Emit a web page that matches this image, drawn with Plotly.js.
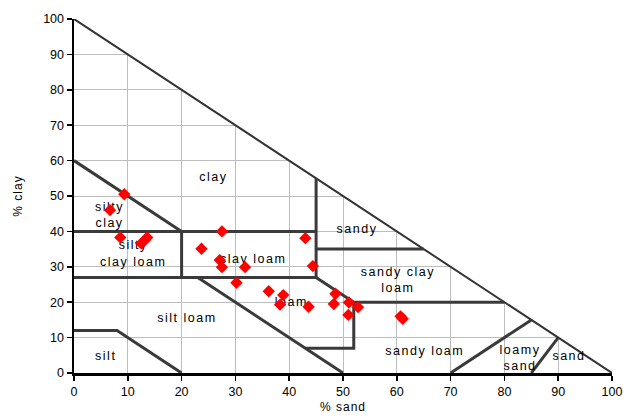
<!DOCTYPE html>
<html>
<head>
<meta charset="utf-8">
<script src="https://cdn.plot.ly/plotly-3.0.1.min.js"></script>
<style>
  html, body { margin: 0; padding: 0; background: #fff; }
  #chart { width: 634px; height: 419px; }
  .classlabels text { letter-spacing: 1.5px; }
  .gridtrace path { shape-rendering: crispEdges; }
  .xtitle, .ytitle { letter-spacing: 1px; }
</style>
</head>
<body>
<div id="chart"></div>
<script>
// ---- Sample data: % sand vs % clay ----
const sampleSand = [9.35, 6.7, 8.6, 12.5, 13.2, 13.6, 23.7, 27.5, 43.0, 27.1, 27.5, 31.8, 44.4, 30.2, 36.2, 38.9, 38.3, 43.6, 48.6, 48.3, 51.1, 52.8, 51.0, 60.7, 61.1];
const sampleClay = [50.5, 46.0, 38.3, 36.6, 37.6, 38.3, 35.1, 40.0, 38.1, 31.9, 29.9, 29.9, 30.2, 25.5, 23.1, 22.0, 19.3, 18.7, 22.4, 19.5, 19.9, 18.6, 16.4, 16.0, 15.3];

// ---- Texture class boundaries (sand, clay), null separates segments ----
const boundarySand = [0, 20, null, 0, 45, null, 45, 45, null, 45, 65, null, 0, 45, null, 20, 20, null, 45, 52, 80, null, 23, 50, null, 43, 52, 52, null, 0, 8, 20, null, 70, 85, null, 85, 90];
const boundaryClay = [60, 40, null, 40, 40, null, 55, 27, null, 35, 35, null, 27, 27, null, 40, 27, null, 27, 20, 20, null, 27, 0, null, 7, 7, 20, null, 12, 12, 0, null, 0, 15, null, 0, 10];

// ---- Triangle hypotenuse ----
const edgeSand = [0, 100];
const edgeClay = [100, 0];

// ---- Class labels ----
const labelText = ["clay", "silty<br>clay", "silty<br>clay loam", "clay loam", "sandy", "sandy clay<br>loam", "loam", "silt loam", "silt", "sandy loam", "loamy<br>sand", "sand"];
const labelSand = [25.9, 6.6, 11.0, 33.3, 52.6, 60.2, 40.4, 21.0, 5.9, 65.2, 82.9, 92.0];
const labelClay = [55.1, 44.4, 33.5, 31.9, 40.4, 26.0, 19.9, 15.3, 4.5, 5.9, 4.0, 4.5];

// ---- Axis ticks ----
const tickVals = [0, 10, 20, 30, 40, 50, 60, 70, 80, 90, 100];
const tickText = ["0", "10", "20", "30", "40", "50", "60", "70", "80", "90", "100"];

// Grid lines clipped to the triangle, built from the tick values
const gx = [], gy = [];
tickVals.forEach(t => {
  if (t > 0 && t < 100) {
    gx.push(t, t, null); gy.push(0, 100 - t, null);
    gx.push(0, 100 - t, null); gy.push(t, t, null);
  }
});

const FONT = "Liberation Sans, Arial, sans-serif";

const traces = [
  { x: gx, y: gy, mode: "lines", line: { color: "#bdbdbd", width: 1 }, hoverinfo: "skip", showlegend: false },
  { x: edgeSand, y: edgeClay, mode: "lines", line: { color: "#333333", width: 2 }, hoverinfo: "skip", showlegend: false },
  { x: boundarySand, y: boundaryClay, mode: "lines", line: { color: "#3a3a3a", width: 3 }, connectgaps: false, hoverinfo: "skip", showlegend: false },
  { x: labelSand, y: labelClay, text: labelText, mode: "text", textposition: "middle center",
    textfont: { family: FONT, size: 12.5, color: "#000" }, hoverinfo: "skip", showlegend: false },
  { x: sampleSand, y: sampleClay, mode: "markers", type: "scatter",
    marker: { symbol: "diamond", size: 9.5, color: "#ff0000", line: { width: 0 } }, showlegend: false }
];

const axisCommon = {
  range: [0, 100], tickvals: tickVals, ticktext: tickText,
  showgrid: false, zeroline: false, showline: true, linecolor: "#000", linewidth: 2.5,
  ticks: "outside", ticklen: 5, tickcolor: "#000", tickwidth: 1.5,
  tickfont: { family: FONT, size: 12.5, color: "#000" }, fixedrange: true
};

const layout = {
  width: 634, height: 419,
  margin: { l: 74, r: 22, t: 19, b: 46 },
  paper_bgcolor: "#fff", plot_bgcolor: "#fff",
  showlegend: false,
  xaxis: Object.assign({}, axisCommon, { title: { text: "% sand", font: { family: FONT, size: 12, color: "#000" }, standoff: 5 } }),
  yaxis: Object.assign({}, axisCommon, { title: { text: "% clay", font: { family: FONT, size: 12, color: "#000" }, standoff: 18 } })
};

Plotly.newPlot("chart", traces, layout, { displayModeBar: false, staticPlot: true }).then(gd => {
  const tr = gd.querySelectorAll(".scatterlayer .trace");
  if (tr[0]) tr[0].classList.add("gridtrace");
  if (tr[3]) tr[3].classList.add("classlabels");
});
</script>
</body>
</html>
